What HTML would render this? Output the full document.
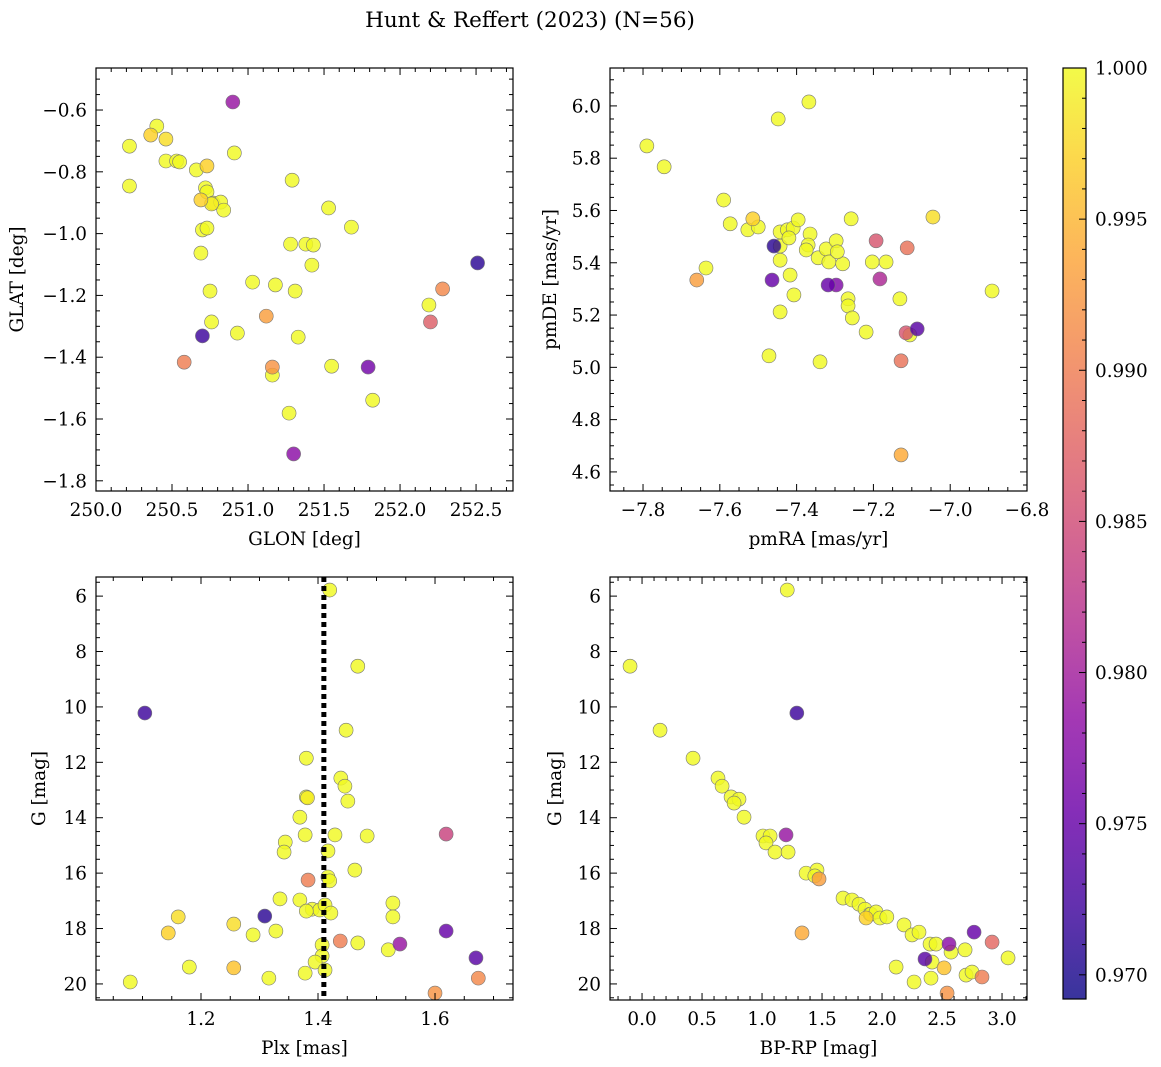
<!DOCTYPE html>
<html><head><meta charset="utf-8">
<style>
body{margin:0;background:#fff;}
svg{display:block;font-family:"DejaVu Serif","Liberation Serif",serif;}
</style></head>
<body>
<svg id="fig" width="1161" height="1067" viewBox="0 0 1161 1067" xmlns="http://www.w3.org/2000/svg">
<text x="530" y="27" font-size="21.5" text-anchor="middle">Hunt &amp; Reffert (2023) (N=56)</text>
</svg>
<script>
// ---- Panel 1: GLON / GLAT
const glon = [250.90,250.22,250.40,250.36,250.46,250.22,250.46,250.53,250.91,250.66,250.73,250.72,250.73,250.69,250.77,250.76,250.82,250.84,251.29,251.53,251.68,250.70,250.73,250.69,251.28,251.38,251.43,251.42,251.03,251.18,250.75,251.31,251.12,250.76,250.93,251.33,250.70,250.58,251.16,251.16,251.55,251.79,251.82,251.27,251.30,252.51,252.28,252.19,252.20,250.55];
const glat = [-0.574,-0.717,-0.652,-0.681,-0.694,-0.846,-0.765,-0.765,-0.739,-0.794,-0.781,-0.852,-0.865,-0.891,-0.901,-0.904,-0.898,-0.924,-0.827,-0.917,-0.979,-0.988,-0.982,-1.063,-1.034,-1.034,-1.037,-1.102,-1.157,-1.166,-1.186,-1.186,-1.267,-1.286,-1.322,-1.335,-1.331,-1.416,-1.432,-1.458,-1.429,-1.432,-1.539,-1.581,-1.713,-1.095,-1.179,-1.231,-1.286,-0.768];
const prob1 = [0.979,1,1,0.997,0.998,1,1,1,1,1,0.997,1,1,0.997,1,0.999,1,1,1,1,1,1,1,1,1,1,1,1,1,1,1,1,0.993,1,1,1,0.972,0.990,0.992,1,1,0.976,1,1,0.978,0.971,0.991,1,0.987,1];
// ---- Panel 2: pmRA / pmDE
const pmra = [-7.79,-7.745,-7.368,-7.448,-7.59,-7.573,-7.636,-7.66,-7.514,-7.527,-7.50,-7.459,-7.443,-7.443,-7.424,-7.409,-7.42,-7.396,-7.365,-7.37,-7.375,-7.443,-7.417,-7.344,-7.323,-7.297,-7.316,-7.28,-7.294,-7.258,-7.318,-7.297,-7.407,-7.266,-7.266,-7.255,-7.464,-7.443,-7.472,-7.339,-7.219,-7.203,-7.193,-7.167,-7.183,-7.131,-7.115,-7.105,-7.086,-7.128,-7.128,-7.112,-7.045,-6.891];
const pmde = [5.847,5.767,6.015,5.95,5.64,5.549,5.38,5.334,5.568,5.526,5.537,5.464,5.464,5.518,5.526,5.533,5.495,5.564,5.51,5.468,5.449,5.41,5.353,5.419,5.453,5.484,5.403,5.396,5.442,5.568,5.315,5.315,5.277,5.262,5.235,5.189,5.334,5.212,5.044,5.021,5.135,5.403,5.484,5.403,5.338,5.262,5.132,5.124,5.147,5.025,4.665,5.457,5.575,5.292];
const prob2 = [1,1,1,1,1,1,1,0.993,0.997,1,1,0.971,1,1,1,1,1,1,1,1,1,1,1,1,1,1,1,1,1,1,0.975,0.977,1,1,1,1,0.975,1,1,1,1,1,0.986,1,0.981,1,0.986,1,0.974,0.989,0.994,0.989,0.998,1];
// ---- Panel 3: Plx / G
const plx = [1.42,1.468,1.104,1.448,1.38,1.439,1.446,1.38,1.451,1.369,1.429,1.378,1.344,1.342,1.484,1.619,1.417,1.463,1.417,1.42,1.383,1.335,1.369,1.39,1.403,1.38,1.412,1.422,1.528,1.528,1.161,1.309,1.256,1.144,1.328,1.289,1.438,1.468,1.407,1.619,1.54,1.52,1.407,1.395,1.67,1.18,1.256,1.378,1.316,1.674,1.079,1.60,1.412,1.382];
const gmag3 = [5.78,8.53,10.22,10.84,11.85,12.57,12.86,13.25,13.40,13.98,14.62,14.62,14.88,15.24,14.66,14.59,15.20,15.89,16.14,16.28,16.25,16.93,16.97,17.30,17.33,17.37,17.15,17.44,17.08,17.58,17.58,17.55,17.84,18.16,18.09,18.23,18.45,18.52,18.59,18.09,18.56,18.77,18.99,19.21,19.06,19.39,19.42,19.61,19.79,19.79,19.93,20.33,19.5,13.28];
const prob3 = [1,1,0.972,1,1,1,1,1,1,1,1,1,1,1,1,0.984,1,1,1,1,0.990,1,1,1,1,1,1,1,1,1,0.998,0.971,0.998,0.997,1,1,0.990,1,1,0.975,0.979,1,1,1,0.974,1,0.996,1,1,0.991,1,0.992,1,0.999];
// ---- Panel 4: BP-RP / G
const bprp = [1.21,-0.1,1.29,0.15,0.425,0.633,0.667,0.742,0.808,0.767,0.85,1.008,1.067,1.20,1.033,1.108,1.217,1.367,1.458,1.475,1.44,1.333,1.675,1.75,1.808,1.858,1.9,1.867,1.908,1.95,1.983,2.04,2.183,2.25,2.308,2.4,2.45,2.558,2.575,2.692,2.767,2.917,2.358,2.417,2.517,2.117,2.7,2.75,2.408,2.267,2.833,3.05,2.542];
const gmag4 = [5.78,8.53,10.22,10.84,11.85,12.57,12.86,13.25,13.33,13.47,13.98,14.66,14.66,14.62,14.91,15.24,15.24,16.0,15.89,16.21,16.1,18.16,16.9,16.97,17.12,17.30,17.48,17.62,17.48,17.4,17.62,17.58,17.87,18.23,18.13,18.56,18.56,18.56,18.85,18.77,18.13,18.49,19.1,19.21,19.42,19.39,19.68,19.57,19.79,19.93,19.75,19.06,20.33];
const prob4 = [1,1,0.972,1,1,1,1,1,1,1,1,1,1,0.979,1,1,1,1,1,0.993,1,0.994,1,1,1,1,1,0.997,1,1,1,1,1,1,1,1,1,0.978,1,1,0.975,0.988,0.974,1,0.996,1,1,1,1,1,0.990,1,0.992];
// ---- colorbar
const cbTicks = [0.970,0.975,0.980,0.985,0.990,0.995,1.000];
const cbMin = 0.9692, cbMax = 1.0;
const parallaxMean = 1.41;

const NS = "http://www.w3.org/2000/svg";
const svg = document.getElementById('fig');
const FS = 18.4;
function mk(tag, attrs, parent){const e=document.createElementNS(NS,tag);for(const k in attrs)e.setAttribute(k,attrs[k]);(parent||svg).appendChild(e);return e;}

const stops=[[13,8,135],[65,4,157],[106,0,168],[143,13,164],[177,42,144],[204,71,120],[225,100,98],[242,132,75],[252,166,54],[252,206,37],[240,249,33]];
function plasma(t){t=Math.max(0,Math.min(1,t));const s=t*10,i=Math.min(9,Math.floor(s)),f=s-i;const a=stops[i],b=stops[i+1];return 'rgb('+[0,1,2].map(k=>Math.round(a[k]+(b[k]-a[k])*f)).join(',')+')';}
function pcol(p){return plasma((p-cbMin)/(cbMax-cbMin));}

function fmt(v,d){return (v<0?'\u2212':'')+Math.abs(v).toFixed(d);}

function panel(o){
  const {L,T,R,B,xmin,xmax,ymin,ymax,invY}=o;
  const sx=v=>L+(v-xmin)/(xmax-xmin)*(R-L);
  const sy=invY? v=>T+(v-ymin)/(ymax-ymin)*(B-T) : v=>B-(v-ymin)/(ymax-ymin)*(B-T);
  const g=mk('g',{});
  
  
  const idx=o.xs.map((_,i)=>i).sort((a,b)=>o.ps[b]-o.ps[a]);
  for(const i of idx){
    const c=mk('circle',{cx:sx(o.xs[i]),cy:sy(o.ys[i]),r:7,fill:pcol(o.ps[i]),'fill-opacity':0.82,stroke:'#777','stroke-width':0.6},g);
    
    
  }
  if(o.vline!==undefined){
    const vl=mk('line',{x1:sx(o.vline),x2:sx(o.vline),y1:T,y2:B,stroke:'#000','stroke-width':5,'stroke-dasharray':'5,4'},g);
    
    
  }
  const fr=mk('rect',{x:L,y:T,width:R-L,height:B-T,fill:'none',stroke:'#000','stroke-width':1.2},g);
  
  
  const eps=1e-9;
  for(let v=Math.ceil(xmin/o.xminor-eps)*o.xminor; v<=xmax+eps; v+=o.xminor){
    const major=Math.abs(v/o.xmajor-Math.round(v/o.xmajor))<1e-6;
    const x=sx(v), len=major?7:4;
    mk('line',{x1:x,x2:x,y1:B,y2:B-len,stroke:'#000','stroke-width':1},g);
    mk('line',{x1:x,x2:x,y1:T,y2:T+len,stroke:'#000','stroke-width':1},g);
    if(major){const t=mk('text',{x:x,y:B+25,'font-size':FS,'text-anchor':'middle'},g);t.textContent=fmt(Math.round(v/o.xmajor)*o.xmajor,o.xd);
      }
  }
  for(let v=Math.ceil(Math.min(ymin,ymax)/o.yminor-eps)*o.yminor; v<=Math.max(ymin,ymax)+eps; v+=o.yminor){
    const major=Math.abs(v/o.ymajor-Math.round(v/o.ymajor))<1e-6;
    const y=sy(v), len=major?7:4;
    mk('line',{x1:L,x2:L+len,y1:y,y2:y,stroke:'#000','stroke-width':1},g);
    mk('line',{x1:R,x2:R-len,y1:y,y2:y,stroke:'#000','stroke-width':1},g);
    if(major){const t=mk('text',{x:L-9,y:y+6.5,'font-size':FS,'text-anchor':'end'},g);t.textContent=fmt(Math.round(v/o.ymajor)*o.ymajor,o.yd);
      }
  }
  const xl=mk('text',{x:(L+R)/2,y:B+54,'font-size':FS,'text-anchor':'middle'},g);xl.textContent=o.xlabel;
  
  const yl=mk('text',{x:0,y:0,'font-size':FS,'text-anchor':'middle',transform:`translate(${o.ylx},${(T+B)/2}) rotate(-90)`},g);yl.textContent=o.ylabel;
  
}

panel({name:'glon-glat-panel',L:96,T:68,R:513,B:491,xmin:250.0,xmax:252.743,ymin:-1.833,ymax:-0.464,xmajor:0.5,xminor:0.1,ymajor:0.2,yminor:0.05,xd:1,yd:1,xs:glon,ys:glat,ps:prob1,xlabel:'GLON [deg]',ylabel:'GLAT [deg]',ylx:23});
panel({name:'pm-panel',L:610,T:68,R:1027,B:491,xmin:-7.886,xmax:-6.8,ymin:4.527,ymax:6.145,xmajor:0.2,xminor:0.05,ymajor:0.2,yminor:0.05,xd:1,yd:1,xs:pmra,ys:pmde,ps:prob2,xlabel:'pmRA [mas/yr]',ylabel:'pmDE [mas/yr]',ylx:556});
panel({name:'plx-g-panel',L:96,T:577,R:513,B:1000,xmin:1.0205,xmax:1.7333,ymin:5.31,ymax:20.58,invY:true,xmajor:0.2,xminor:0.05,ymajor:2,yminor:0.5,xd:1,yd:0,xs:plx,ys:gmag3,ps:prob3,xlabel:'Plx [mas]',ylabel:'G [mag]',ylx:45,vline:parallaxMean});
panel({name:'cmd-panel',L:610,T:577,R:1027,B:1000,xmin:-0.267,xmax:3.208,ymin:5.31,ymax:20.58,invY:true,xmajor:0.5,xminor:0.1,ymajor:2,yminor:0.5,xd:1,yd:0,xs:bprp,ys:gmag4,ps:prob4,xlabel:'BP-RP [mag]',ylabel:'G [mag]',ylx:561});

(function(){
  const L=1063,R=1086,T=68,B=999;
  const g=mk('g',{});
  
  
  const defs=mk('defs',{},g);
  const lg=mk('linearGradient',{id:'cbg',x1:0,y1:1,x2:0,y2:0},defs);
  for(let i=0;i<=20;i++){mk('stop',{offset:i/20,'stop-color':plasma(i/20),'stop-opacity':0.82},lg);}
  mk('rect',{x:L,y:T,width:R-L,height:B-T,fill:'url(#cbg)',stroke:'#000','stroke-width':1.2},g);
  const sy=v=>B-(v-cbMin)/(cbMax-cbMin)*(B-T);
  for(let k=Math.ceil(cbMin*1000-1e-6);k<=Math.floor(cbMax*1000+1e-6);k++){
    const y=sy(k/1000);const major=k%5===0;
    mk('line',{x1:R,x2:R-(major?7:4),y1:y,y2:y,stroke:'#000','stroke-width':1},g);
  }
  for(const v of cbTicks){
    const t=mk('text',{x:R+9,y:sy(v)+6.5,'font-size':FS},g);t.textContent=v.toFixed(3);
    
  }
})();
</script>
</body></html>
